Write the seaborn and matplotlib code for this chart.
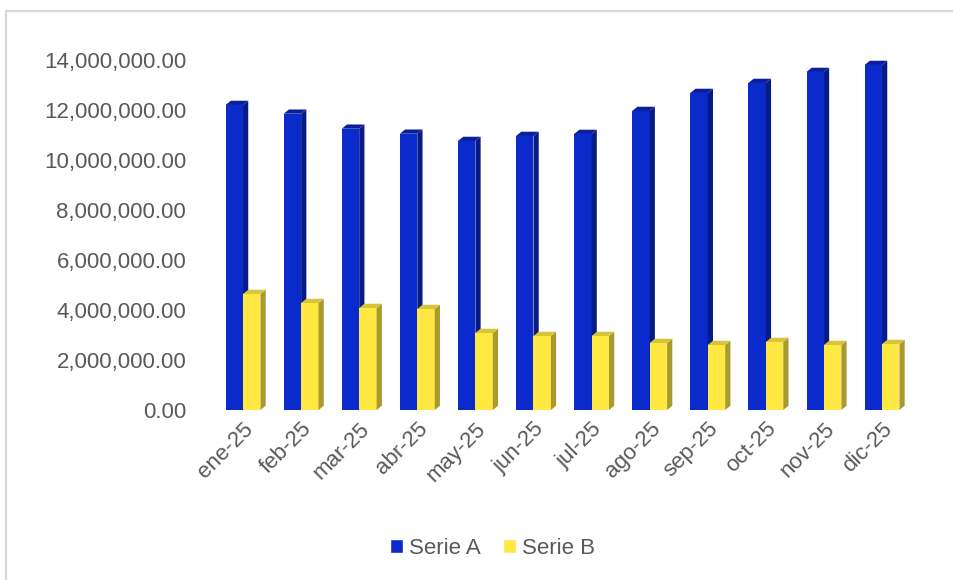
#importing the package
import pandas as pd
import numpy as np
import matplotlib.pyplot as plt
import seaborn as sns
from matplotlib.patches import Polygon, Rectangle
from matplotlib.lines import Line2D
from matplotlib.ticker import FuncFormatter

#chart values
months = ['ene-25', 'feb-25', 'mar-25', 'abr-25', 'may-25', 'jun-25',
          'jul-25', 'ago-25', 'sep-25', 'oct-25', 'nov-25', 'dic-25']
serie_a = [12200000, 11850000, 11250000, 11050000, 10760000, 10960000,
           11040000, 11960000, 12680000, 13080000, 13520000, 13800000]
serie_b = [4640000, 4280000, 4080000, 4040000, 3080000, 2960000,
           2960000, 2680000, 2600000, 2720000, 2600000, 2640000]
series = ['Serie A', 'Serie B']

#long format for seaborn
df = pd.DataFrame({
    'mes': months * 2,
    'valor': serie_a + serie_b,
    'serie': [series[0]] * len(months) + [series[1]] * len(months),
})

front = {'Serie A': '#0A2ACB', 'Serie B': '#FFE841'}
side = {'Serie A': '#061C84', 'Serie B': '#A99A2F'}
top = {'Serie A': '#0B1F9E', 'Serie B': '#D6C43A'}

sns.set_style('white')
plt.rcParams['font.family'] = ['Liberation Sans', 'DejaVu Sans']

fig = plt.figure(figsize=(9.54, 5.8), dpi=100)
ax = fig.add_axes([0.2243, 0.2931, 0.7307, 0.6035])

sns.barplot(data=df, x='mes', y='valor', hue='serie', palette=front,
            saturation=1, width=0.6, gap=0, dodge=True, ax=ax, legend=False,
            edgecolor='none', linewidth=0)

#fake 3d depth on every bar, series B drawn in front of A's side
dx = 0.09
dy = 170000
for bar in list(ax.patches):
    x0 = bar.get_x()
    w = bar.get_width()
    h = bar.get_height()
    col = bar.get_facecolor()
    name = 'Serie A' if col[2] > 0.5 else 'Serie B'
    z = 2 if name == 'Serie A' else 4
    bar.set_zorder(z)
    ax.add_patch(Polygon([(x0 + w, 0), (x0 + w + dx, dy), (x0 + w + dx, h + dy), (x0 + w, h)],
                         closed=True, facecolor=side[name], edgecolor='none', zorder=z + 1))
    ax.add_patch(Polygon([(x0, h), (x0 + dx, h + dy), (x0 + w + dx, h + dy), (x0 + w, h)],
                         closed=True, facecolor=top[name], edgecolor='none', zorder=z + 1))

ax.set_xlim(-0.5, len(months) - 0.5)
ax.set_ylim(0, 14000000)
ax.set_yticks(np.arange(0, 14000001, 2000000))
ax.yaxis.set_major_formatter(FuncFormatter(lambda v, p: f'{v:,.2f}'))
ax.set_xlabel('')
ax.set_ylabel('')
for s in ax.spines.values():
    s.set_visible(False)
ax.tick_params(axis='both', length=0, labelsize=16, labelcolor='#595959')
ax.tick_params(axis='y', pad=20)
ax.tick_params(axis='x', pad=6)
plt.setp(ax.get_xticklabels(), rotation=45, ha='right', rotation_mode='anchor')

#legend
handles = [Rectangle((0, 0), 1, 1, facecolor=front[s]) for s in series]
fig.legend(handles, series, loc='center', bbox_to_anchor=(0.516, 0.055), ncol=2,
           frameon=False, fontsize=16, handlelength=0.6, handleheight=0.6,
           handletextpad=0.25, columnspacing=1.0, labelcolor='#595959')

#chart border (only top and left visible)
fig.add_artist(Line2D([6.5 / 954, 1], [1 - 10.5 / 580, 1 - 10.5 / 580], transform=fig.transFigure,
                      color='#D9D9D9', linewidth=1.6))
fig.add_artist(Line2D([6.5 / 954, 6.5 / 954], [0, 1 - 10.5 / 580], transform=fig.transFigure,
                      color='#D9D9D9', linewidth=1.6))

fig.savefig('out.png', dpi=100)
